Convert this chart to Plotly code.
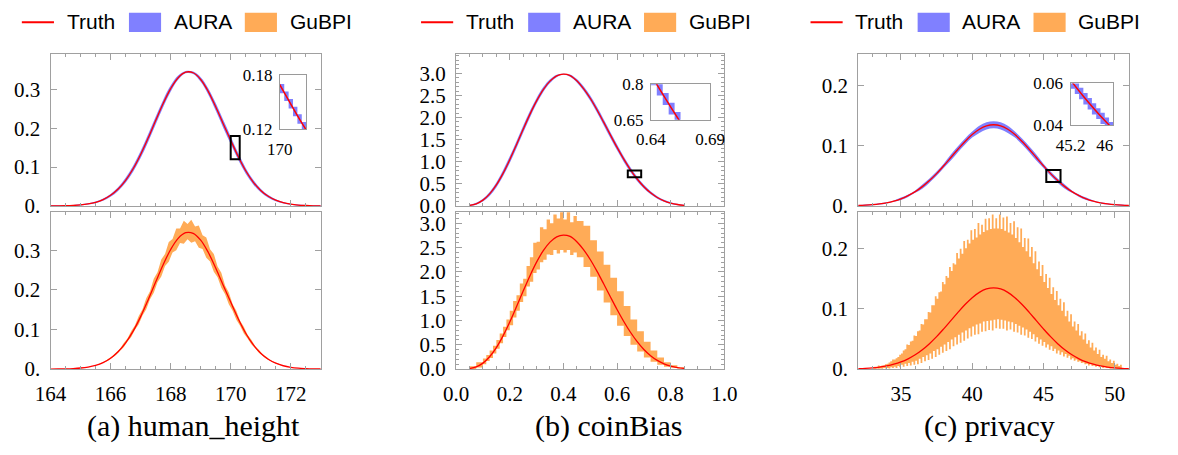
import plotly.graph_objects as go

W, H = 1178, 455

# ======================= (a) human_height =======================
height_x = [164.0, 164.25, 164.5, 164.75, 165.0, 165.25, 165.5, 165.75, 166.0, 166.25, 166.5, 166.75,
            167.0, 167.25, 167.5, 167.75, 168.0, 168.25, 168.5, 168.75, 169.0, 169.25, 169.5, 169.75,
            170.0, 170.25, 170.5, 170.75, 171.0, 171.25, 171.5, 171.75, 172.0, 172.25, 172.5, 172.75, 173.0]
height_truth = [0.0001, 0.0003, 0.0006, 0.0013, 0.0027, 0.0052, 0.0094, 0.0164, 0.0274, 0.0436, 0.0661, 0.0957,
                0.1324, 0.1745, 0.2195, 0.2634, 0.3018, 0.3299, 0.3441, 0.3425, 0.3253, 0.2948, 0.2550, 0.2115,
                0.1690, 0.1270, 0.0905, 0.0615, 0.0400, 0.0248, 0.0148, 0.0084, 0.0045, 0.0023, 0.0012, 0.0005, 0.0002]
height_aura_lo = [0.0, 0.0, 0.0, 0.0, 0.0012, 0.0035, 0.0073, 0.0136, 0.0237, 0.0388, 0.0599, 0.0881,
                  0.1235, 0.1647, 0.2095, 0.2540, 0.2940, 0.3246, 0.3411, 0.3395, 0.3194, 0.2866, 0.2454, 0.2014,
                  0.1591, 0.1181, 0.0831, 0.0555, 0.0354, 0.0213, 0.0122, 0.0064, 0.0030, 0.0008, 0.0, 0.0, 0.0]
height_aura_hi = [0.0016, 0.0018, 0.0021, 0.0028, 0.0042, 0.0069, 0.0115, 0.0192, 0.0311, 0.0484, 0.0723, 0.1033,
                  0.1413, 0.1843, 0.2295, 0.2728, 0.3096, 0.3352, 0.3471, 0.3455, 0.3312, 0.3030, 0.2646, 0.2216,
                  0.1789, 0.1359, 0.0979, 0.0675, 0.0446, 0.0283, 0.0174, 0.0104, 0.0060, 0.0038, 0.0027, 0.0020, 0.0017]
height_gub_x = [165.5625 + 0.125 * i for i in range(50)]
height_gub_hi = [0.0116, 0.0158, 0.0199, 0.0265, 0.0328, 0.0427, 0.0515, 0.0656, 0.0773, 0.0960,
                 0.1106, 0.1342, 0.1509, 0.1790, 0.1967, 0.2279, 0.2445, 0.2768, 0.2902, 0.3208,
                 0.3286, 0.3549, 0.3550, 0.3745, 0.3659, 0.3771, 0.3600, 0.3624, 0.3379, 0.3323,
                 0.3026, 0.2907, 0.2587, 0.2428, 0.2110, 0.1935, 0.1642, 0.1471, 0.1220, 0.1067,
                 0.0864, 0.0739, 0.0584, 0.0488, 0.0377, 0.0308, 0.0232, 0.0185, 0.0137, 0.0106]
height_gub_lo = [0.0104, 0.0133, 0.0179, 0.0224, 0.0294, 0.0361, 0.0462, 0.0554, 0.0693, 0.0811,
                 0.0991, 0.1134, 0.1353, 0.1512, 0.1763, 0.1925, 0.2192, 0.2338, 0.2601, 0.2710,
                 0.2945, 0.2998, 0.3182, 0.3164, 0.3279, 0.3186, 0.3226, 0.3062, 0.3029, 0.2807,
                 0.2712, 0.2456, 0.2319, 0.2051, 0.1891, 0.1634, 0.1472, 0.1242, 0.1093, 0.0901,
                 0.0774, 0.0624, 0.0523, 0.0413, 0.0338, 0.0260, 0.0208, 0.0156, 0.0123, 0.0090]
height_inset_edges = [169.95, 170.0, 170.05, 170.1, 170.15, 170.2, 170.25, 170.3, 170.35]
height_inset_lo = [0.168, 0.1596, 0.1512, 0.1428, 0.1344, 0.126, 0.1176, 0.1092]
height_inset_hi = [0.1784, 0.170, 0.1616, 0.1532, 0.1448, 0.1364, 0.128, 0.1196]
height_zoom_x = [170.0, 170.3]
height_zoom_y = [0.12, 0.18]
height_xticks = [164, 166, 168, 170, 172]
height_xlabels = ['164', '166', '168', '170', '172']
height_yticks = [0, 0.1, 0.2, 0.3]
height_ylabels = ['0.', '0.1', '0.2', '0.3']
height_inset_xticks = [170]
height_inset_xlabels = ['170']
height_inset_yticks = [0.12, 0.18]
height_inset_ylabels = ['0.12', '0.18']

# ======================= (b) coinBias =======================
coin_x = [0.05, 0.075, 0.1, 0.125, 0.15, 0.175, 0.2, 0.225, 0.25, 0.275, 0.3, 0.325, 0.35, 0.375, 0.4,
          0.425, 0.45, 0.475, 0.5, 0.525, 0.55, 0.575, 0.6, 0.625, 0.65, 0.675, 0.7, 0.725, 0.75, 0.775,
          0.8, 0.825, 0.85]
# top panel (as read against its own axis)
coin_top_truth = [0.0114, 0.0495, 0.1326, 0.2733, 0.4763, 0.7380, 1.0464, 1.3856, 1.7345, 2.0714, 2.3771,
                  2.6330, 2.8231, 2.9408, 2.9797, 2.9484, 2.8318, 2.6557, 2.4365, 2.1773, 1.8954, 1.6070,
                  1.3241, 1.0584, 0.8186, 0.6102, 0.4363, 0.2981, 0.1922, 0.1166, 0.0654, 0.0332, 0.0148]
coin_aura_lo = [0.0, 0.0268, 0.1002, 0.2280, 0.4190, 0.6699, 0.9708, 1.3057, 1.6546, 1.9958, 2.3101, 2.5769,
                2.7810, 2.9138, 2.9668, 2.9225, 2.7929, 2.6050, 2.3771, 2.1125, 1.8274, 1.5390, 1.2582,
                0.9968, 0.7625, 0.5616, 0.3942, 0.2624, 0.1631, 0.0929, 0.0460, 0.0170, 0.0018]
coin_aura_hi = [0.0266, 0.0721, 0.1650, 0.3187, 0.5335, 0.8060, 1.1220, 1.4656, 1.8144, 2.1470, 2.4440,
                2.6892, 2.8652, 2.9678, 2.9927, 2.9743, 2.8706, 2.7065, 2.4959, 2.2421, 1.9634, 1.6751,
                1.3900, 1.1200, 0.8748, 0.6588, 0.4784, 0.3337, 0.2214, 0.1404, 0.0849, 0.0494, 0.0278]
# bottom panel
coin_truth = [0.0106, 0.0458, 0.1228, 0.2531, 0.4410, 0.6833, 0.9689, 1.283, 1.606, 1.918, 2.201, 2.438,
              2.614, 2.723, 2.759, 2.730, 2.622, 2.459, 2.256, 2.016, 1.755, 1.488, 1.226, 0.980, 0.758,
              0.565, 0.404, 0.276, 0.178, 0.108, 0.0606, 0.0307, 0.0137]
coin_gub_edges = [0.05, 0.075, 0.1, 0.1125, 0.125, 0.1375, 0.15, 0.1625, 0.175, 0.1875, 0.2, 0.2125,
                  0.225, 0.2375, 0.25, 0.2625, 0.275, 0.2875, 0.3, 0.3125, 0.325, 0.3375, 0.35, 0.3625,
                  0.375, 0.3875, 0.4, 0.4125, 0.425, 0.4375, 0.45, 0.475, 0.5, 0.525, 0.55, 0.575, 0.6,
                  0.625, 0.65, 0.675, 0.7, 0.725, 0.75, 0.775, 0.8, 0.825, 0.85]
coin_gub_lo = [0.0, 0.03, 0.10, 0.165, 0.23, 0.32, 0.42, 0.53, 0.66, 0.80,
               0.90, 1.06, 1.20, 1.38, 1.50, 1.70, 1.80, 1.98, 2.05, 2.20, 2.25, 2.36, 2.35, 2.45, 2.38,
               2.45, 2.40, 2.45, 2.35, 2.40,
               2.30, 2.10, 1.90, 1.62, 1.37, 1.11, 0.89, 0.68, 0.50, 0.36, 0.24, 0.15, 0.09, 0.05, 0.025, 0.01]
coin_gub_hi = [0.06, 0.14, 0.22, 0.29, 0.38, 0.48, 0.60, 0.73, 0.87, 1.02,
               1.20, 1.40, 1.52, 1.76, 1.86, 2.12, 2.30, 2.60, 2.62, 2.92, 2.88, 3.08, 3.00, 3.18, 3.10,
               3.30, 3.08, 3.30, 3.02, 3.15,
               3.05, 2.95, 2.65, 2.42, 2.15, 1.88, 1.60, 1.30, 1.02, 0.78, 0.56, 0.38, 0.24, 0.14, 0.08, 0.04]
coin_inset_edges = [0.635, 0.64, 0.645, 0.65, 0.655, 0.66, 0.665, 0.67]
coin_inset_lo = [0.840, 0.796, 0.753, 0.712, 0.672, 0.634, 0.597]
coin_inset_hi = [0.894, 0.850, 0.806, 0.763, 0.722, 0.682, 0.644]
coin_zoom_x = [0.64, 0.69]
coin_zoom_y = [0.65, 0.8]
coin_xticks = [0.0, 0.2, 0.4, 0.6, 0.8, 1.0]
coin_xlabels = ['0.0', '0.2', '0.4', '0.6', '0.8', '1.0']
coin_yticks = [0.0, 0.5, 1.0, 1.5, 2.0, 2.5, 3.0]
coin_ylabels = ['0.0', '0.5', '1.0', '1.5', '2.0', '2.5', '3.0']
coin_inset_xticks = [0.64, 0.69]
coin_inset_xlabels = ['0.64', '0.69']
coin_inset_yticks = [0.65, 0.8]
coin_inset_ylabels = ['0.65', '0.8']

# ======================= (c) privacy =======================
priv_x = [32.0, 32.5, 33.0, 33.5, 34.0, 34.5, 35.0, 35.5, 36.0, 36.5, 37.0, 37.5, 38.0, 38.5, 39.0, 39.5,
          40.0, 40.5, 41.0, 41.5, 42.0, 42.5, 43.0, 43.5, 44.0, 44.5, 45.0, 45.5, 46.0, 46.5, 47.0, 47.5,
          48.0, 48.5, 49.0, 49.5, 50.0, 50.5, 51.0]
priv_truth = [0.0008, 0.0013, 0.0021, 0.0034, 0.0053, 0.0081, 0.0119, 0.0171, 0.0238, 0.0322, 0.0423,
              0.0539, 0.0669, 0.0806, 0.0944, 0.1074, 0.1188, 0.1276, 0.1333, 0.1352, 0.1333, 0.1276,
              0.1188, 0.1074, 0.0944, 0.0806, 0.0669, 0.0539, 0.0423, 0.0322, 0.0238, 0.0171, 0.0119,
              0.0081, 0.0053, 0.0034, 0.0021, 0.0013, 0.0008]
priv_aura_hi = [0.0018, 0.0023, 0.0031, 0.0044, 0.0063, 0.0091, 0.0139, 0.0191, 0.0258, 0.0357, 0.0458,
                0.0574, 0.0704, 0.0856, 0.0994, 0.1124, 0.1238, 0.1336, 0.1393, 0.1412, 0.1393, 0.1336,
                0.1238, 0.1124, 0.0994, 0.0856, 0.0704, 0.0574, 0.0458, 0.0357, 0.0258, 0.0191, 0.0139,
                0.0091, 0.0063, 0.0044, 0.0031, 0.0023, 0.0018]
priv_aura_lo = [0.0, 0.0003, 0.0011, 0.0024, 0.0043, 0.0071, 0.0099, 0.0151, 0.0218, 0.0287, 0.0388,
                0.0504, 0.0634, 0.0756, 0.0894, 0.1024, 0.1138, 0.1216, 0.1273, 0.1292, 0.1273, 0.1216,
                0.1138, 0.1024, 0.0894, 0.0756, 0.0634, 0.0504, 0.0388, 0.0287, 0.0218, 0.0151, 0.0099,
                0.0071, 0.0043, 0.0024, 0.0011, 0.0003, 0.0]
priv_gub_edges = [33.0 + 0.125 * i for i in range(141)]
priv_gub_hi_solid = [0.003, 0.004, 0.005, 0.006, 0.009, 0.013, 0.016, 0.020, 0.026, 0.033, 0.040, 0.047,
                     0.055, 0.064, 0.074, 0.083, 0.094, 0.106, 0.117, 0.129, 0.141, 0.152, 0.163, 0.174,
                     0.184, 0.192, 0.201, 0.209, 0.215, 0.219, 0.224, 0.228, 0.231, 0.233, 0.234, 0.234,
                     0.233, 0.230, 0.227, 0.224, 0.218, 0.211, 0.203, 0.196, 0.187, 0.176, 0.166, 0.155,
                     0.145, 0.135, 0.125, 0.115, 0.106, 0.097, 0.088, 0.079, 0.071, 0.064, 0.056, 0.049,
                     0.042, 0.036, 0.031, 0.025, 0.020, 0.017, 0.013, 0.010, 0.007, 0.005]
priv_gub_hi_spike = [0.004, 0.006, 0.006, 0.008, 0.011, 0.016, 0.018, 0.024, 0.031, 0.041, 0.046, 0.056,
                     0.063, 0.075, 0.083, 0.095, 0.106, 0.121, 0.128, 0.145, 0.155, 0.170, 0.176, 0.193,
                     0.200, 0.213, 0.215, 0.231, 0.233, 0.243, 0.240, 0.250, 0.251, 0.257, 0.251, 0.257,
                     0.252, 0.254, 0.243, 0.246, 0.236, 0.234, 0.218, 0.217, 0.203, 0.196, 0.179, 0.173,
                     0.158, 0.152, 0.136, 0.130, 0.117, 0.111, 0.097, 0.091, 0.079, 0.075, 0.063, 0.059,
                     0.048, 0.044, 0.036, 0.032, 0.024, 0.022, 0.016, 0.014, 0.009, 0.007]
priv_gub_lo_solid = [0.001, 0.001, 0.001, 0.002, 0.002, 0.003, 0.004, 0.005, 0.007, 0.009, 0.010, 0.012,
                     0.014, 0.017, 0.020, 0.023, 0.026, 0.030, 0.033, 0.037, 0.041, 0.045, 0.049, 0.053,
                     0.057, 0.061, 0.064, 0.068, 0.071, 0.074, 0.076, 0.079, 0.080, 0.081, 0.082, 0.083,
                     0.082, 0.081, 0.079, 0.078, 0.075, 0.072, 0.069, 0.066, 0.062, 0.058, 0.053, 0.049,
                     0.045, 0.041, 0.038, 0.034, 0.031, 0.028, 0.025, 0.022, 0.018, 0.016, 0.013, 0.011,
                     0.009, 0.008, 0.006, 0.005, 0.004, 0.003, 0.002, 0.0015, 0.001, 0.0005]
priv_gub_lo_spike = [0.0005, 0.0005, 0.0005, 0.001, 0.001, 0.002, 0.002, 0.003, 0.004, 0.005, 0.006, 0.007,
                     0.008, 0.010, 0.013, 0.015, 0.017, 0.020, 0.024, 0.027, 0.030, 0.033, 0.038, 0.041,
                     0.044, 0.047, 0.051, 0.054, 0.057, 0.058, 0.062, 0.063, 0.065, 0.064, 0.068, 0.067,
                     0.067, 0.064, 0.066, 0.062, 0.061, 0.057, 0.056, 0.052, 0.050, 0.046, 0.042, 0.039,
                     0.036, 0.032, 0.030, 0.026, 0.024, 0.021, 0.019, 0.016, 0.014, 0.012, 0.010, 0.008,
                     0.006, 0.005, 0.004, 0.003, 0.002, 0.002, 0.001, 0.001, 0.0005, 0.0003]
priv_inset_edges = [45.1, 45.2, 45.3, 45.4, 45.5, 45.6, 45.7, 45.8, 45.9, 46.0, 46.1, 46.2, 46.3]
priv_inset_lo = [0.0601, 0.0575, 0.0549, 0.0524, 0.0500, 0.0476, 0.0452, 0.0430, 0.0407, 0.0386, 0.0365, 0.0345]
priv_inset_hi = [0.0657, 0.0631, 0.0605, 0.0579, 0.0554, 0.0530, 0.0506, 0.0482, 0.0460, 0.0437, 0.0416, 0.0395]
priv_zoom_x = [45.2, 46.2]
priv_zoom_y = [0.04, 0.06]
priv_xticks = [35, 40, 45, 50]
priv_xlabels = ['35', '40', '45', '50']
priv_yticks = [0, 0.1, 0.2]
priv_ylabels = ['0.', '0.1', '0.2']
priv_inset_xticks = [45.2, 46]
priv_inset_xlabels = ['45.2', '46']
priv_inset_yticks = [0.04, 0.06]
priv_inset_ylabels = ['0.04', '0.06']

legend_names = ['Truth', 'AURA', 'GuBPI']
captions = ['(a) human_height', '(b) coinBias', '(c) privacy']

# ======================= styling =======================
RED = 'rgb(255,0,0)'
BLUE = 'rgb(128,128,255)'
ORANGE = 'rgb(255,171,87)'
FRAME = '#a0a0a0'
SERIF = 'Liberation Serif, Times New Roman, serif'
SANS = 'Liberation Sans, Arial, sans-serif'


def fx(X):
    return X / W


def fy(Y):
    return 1 - Y / H


def stairs(edges, vals):
    return list(edges), list(vals) + [vals[-1]]


def interleave(a, b):
    out = []
    for u, v in zip(a, b):
        out += [u, v]
    return out


fig = go.Figure()


def add_band(x, lo, hi, color, xa, ya, shape):
    fig.add_trace(go.Scatter(x=x, y=lo, mode='lines', line=dict(width=0, shape=shape, color=color),
                             xaxis=xa, yaxis=ya, showlegend=False, hoverinfo='skip'))
    fig.add_trace(go.Scatter(x=x, y=hi, mode='lines', line=dict(width=0, shape=shape, color=color),
                             fill='tonexty', fillcolor=color, xaxis=xa, yaxis=ya,
                             showlegend=False, hoverinfo='skip'))


def add_truth(x, y, xa, ya, w=1.3):
    fig.add_trace(go.Scatter(x=x, y=y, mode='lines', line=dict(color=RED, width=w, shape='spline'),
                             xaxis=xa, yaxis=ya, showlegend=False, hoverinfo='skip'))


# (a)
add_band(height_x, height_aura_lo, height_aura_hi, BLUE, 'x', 'y', 'spline')
add_truth(height_x, height_truth, 'x', 'y')
add_band(height_gub_x, height_gub_lo, height_gub_hi, ORANGE, 'x2', 'y2', 'linear')
add_truth(height_x, height_truth, 'x2', 'y2')
# (b)
add_band(coin_x, coin_aura_lo, coin_aura_hi, BLUE, 'x3', 'y3', 'spline')
add_truth(coin_x, coin_top_truth, 'x3', 'y3')
ex, lo = stairs(coin_gub_edges, coin_gub_lo)
_, hi = stairs(coin_gub_edges, coin_gub_hi)
add_band(ex, lo, hi, ORANGE, 'x4', 'y4', 'hv')
add_truth(coin_x, coin_truth, 'x4', 'y4')
# (c)
add_band(priv_x, priv_aura_lo, priv_aura_hi, BLUE, 'x5', 'y5', 'spline')
add_truth(priv_x, priv_truth, 'x5', 'y5')
ex, lo = stairs(priv_gub_edges, interleave(priv_gub_lo_solid, priv_gub_lo_spike))
_, hi = stairs(priv_gub_edges, interleave(priv_gub_hi_solid, priv_gub_hi_spike))
add_band(ex, lo, hi, ORANGE, 'x6', 'y6', 'hv')
add_truth(priv_x, priv_truth, 'x6', 'y6')
# insets
for edges, ilo, ihi, tx, ty, xa, ya in [
        (height_inset_edges, height_inset_lo, height_inset_hi, height_x, height_truth, 'x7', 'y7'),
        (coin_inset_edges, coin_inset_lo, coin_inset_hi, coin_x, coin_truth, 'x8', 'y8'),
        (priv_inset_edges, priv_inset_lo, priv_inset_hi, priv_x, priv_truth, 'x9', 'y9')]:
    ex, lo = stairs(edges, ilo)
    _, hi = stairs(edges, ihi)
    add_band(ex, lo, hi, BLUE, xa, ya, 'hv')
    add_truth(tx, ty, xa, ya, w=1.5)


def axis(dom, rng, anchor, tickvals, ticktext, show, minor_dtick=None, minor_tick0=0, standoff=5):
    d = dict(domain=dom, range=rng, anchor=anchor, tickmode='array', tickvals=tickvals, ticktext=ticktext,
             showticklabels=show, ticks='inside', ticklen=6, tickwidth=1, tickcolor=FRAME,
             showline=True, linecolor=FRAME, linewidth=1.3, mirror='allticks',
             showgrid=False, zeroline=False, tickfont=dict(family=SERIF, size=21, color='black'),
             ticklabelstandoff=standoff)
    if minor_dtick:
        d['minor'] = dict(ticks='inside', ticklen=3, tickwidth=1, tickcolor=FRAME, tickmode='linear',
                          tick0=minor_tick0, dtick=minor_dtick, showgrid=False)
    return d


def inset_axis(dom, rng, anchor, tickvals, ticktext, standoff):
    pad = (rng[1] - rng[0]) * 1e-6
    return dict(domain=dom, range=[rng[0] - pad, rng[1] + pad], anchor=anchor, tickmode='array',
                tickvals=tickvals, ticktext=ticktext, ticks='', showline=True, linecolor='#9a9a9a',
                linewidth=1, mirror=True, showgrid=False, zeroline=False,
                tickfont=dict(family=SERIF, size=17, color='black'), ticklabelstandoff=standoff)


xa_dom = [[fx(35.5), fx(313)], [fx(452), fx(727.5)], [fx(865), fx(1143)]]
top_dom = [fy(206.5), fy(47.5)]
bot_dom = [fy(377.5), fy(213)]

lay = dict(autosize=True, margin=dict(l=0, r=0, t=0, b=0, pad=0), paper_bgcolor='white',
           plot_bgcolor='white', showlegend=False, font=dict(family=SERIF, color='black'))

# (a)
lay['xaxis'] = axis(xa_dom[0], [164, 173], 'y', height_xticks, height_xlabels, False, 0.5, 164)
lay['yaxis'] = axis(top_dom, [0, 0.39], 'x', height_yticks, height_ylabels, True)
lay['xaxis2'] = axis(xa_dom[0], [164, 173], 'y2', height_xticks, height_xlabels, True, 0.5, 164, standoff=6)
lay['yaxis2'] = axis(bot_dom, [0, 0.396], 'x2', height_yticks, height_ylabels, True)
# (b)
lay['xaxis3'] = axis(xa_dom[1], [0, 1], 'y3', coin_xticks, coin_xlabels, False, 0.05, 0)
lay['yaxis3'] = axis(top_dom, [0, 3.43], 'x3', coin_yticks, coin_ylabels, True, 0.1, 0)
lay['xaxis4'] = axis(xa_dom[1], [0, 1], 'y4', coin_xticks, coin_xlabels, True, 0.05, 0, standoff=6)
lay['yaxis4'] = axis(bot_dom, [0, 3.23], 'x4', coin_yticks, coin_ylabels, True, 0.1, 0)
# (c)
lay['xaxis5'] = axis(xa_dom[2], [32, 51], 'y5', priv_xticks, priv_xlabels, False, 1, 32)
lay['yaxis5'] = axis(top_dom, [0, 0.2524], 'x5', priv_yticks, priv_ylabels, True)
lay['xaxis6'] = axis(xa_dom[2], [32, 51], 'y6', priv_xticks, priv_xlabels, True, 1, 32, standoff=6)
lay['yaxis6'] = axis(bot_dom, [0, 0.261], 'x6', priv_yticks, priv_ylabels, True)
# insets
lay['xaxis7'] = inset_axis([fx(271), fx(298)], height_zoom_x, 'y7', height_inset_xticks, height_inset_xlabels, 4)
lay['yaxis7'] = inset_axis([fy(126), fy(69)], height_zoom_y, 'x7', height_inset_yticks, height_inset_ylabels, 3)
lay['xaxis8'] = inset_axis([fx(652), fx(713)], coin_zoom_x, 'y8', coin_inset_xticks, coin_inset_xlabels, 4)
lay['yaxis8'] = inset_axis([fy(116), fy(79)], coin_zoom_y, 'x8', coin_inset_yticks, coin_inset_ylabels, 3)
lay['xaxis9'] = inset_axis([fx(1083), fx(1127)], priv_zoom_x, 'y9', priv_inset_xticks, priv_inset_xlabels, 4)
lay['yaxis9'] = inset_axis([fy(122), fy(78)], priv_zoom_y, 'x9', priv_inset_yticks, priv_inset_ylabels, 3)

shapes = []
for zx, zy, xr, yr in [(height_zoom_x, height_zoom_y, 'x', 'y'),
                       (coin_zoom_x, coin_zoom_y, 'x3', 'y3'),
                       (priv_zoom_x, priv_zoom_y, 'x5', 'y5')]:
    shapes.append(dict(type='rect', xref=xr, yref=yr, x0=zx[0], x1=zx[1], y0=zy[0], y1=zy[1],
                       line=dict(color='black', width=2), fillcolor='rgba(0,0,0,0)'))

annotations = []
for off in [0, 410, 810]:
    shapes.append(dict(type='line', xref='paper', yref='paper', x0=fx(6 + off), x1=fx(39 + off),
                       y0=fy(14), y1=fy(14), line=dict(color=RED, width=2)))
    shapes.append(dict(type='rect', xref='paper', yref='paper', x0=fx(116 + off), x1=fx(149 + off),
                       y0=fy(24), y1=fy(4), line=dict(width=0), fillcolor=BLUE))
    shapes.append(dict(type='rect', xref='paper', yref='paper', x0=fx(235 + off), x1=fx(268 + off),
                       y0=fy(24), y1=fy(4), line=dict(width=0), fillcolor=ORANGE))
    for name, X in zip(legend_names, [50, 160, 279]):
        annotations.append(dict(text=name, xref='paper', yref='paper', x=fx(X + off), y=fy(13.5),
                                xanchor='left', yanchor='middle', showarrow=False,
                                font=dict(family=SANS, size=21, color='black')))

for cap, X in zip(captions, [182, 609, 1000]):
    annotations.append(dict(text=cap, xref='paper', yref='paper', x=fx(X), y=fy(437),
                            xanchor='center', yanchor='middle', showarrow=False,
                            font=dict(family=SERIF, size=30, color='black')))

lay['shapes'] = shapes
lay['annotations'] = annotations
fig.update_layout(**lay)

# The graph div is pinned to the page origin so the browser's default body margin does not shift it.
fig.write_html("out.html", config={'displayModeBar': False, 'responsive': False},
               default_width="%dpx; position:absolute; left:0px; top:0px" % W,
               default_height="%dpx" % H,
               post_script="document.body.style.margin='0px';")
